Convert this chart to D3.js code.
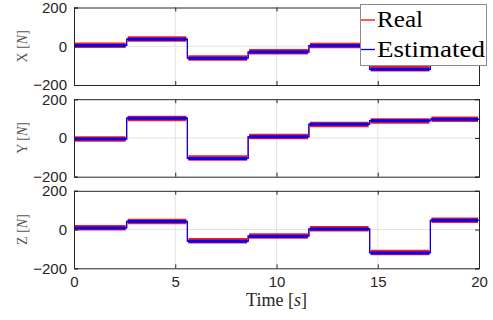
<!DOCTYPE html>
<html>
<head>
<meta charset="utf-8">
<script src="https://cdn.jsdelivr.net/npm/d3@7"></script>
<style>
  body { margin: 0; background: #fff; }
  svg { display: block; }
</style>
</head>
<body>
<div id="chart"></div>
<script>
// step boundaries (s) and the level of each segment, per force axis
const stepTimes = [0, 2.6, 5.6, 8.6, 11.6, 14.6, 17.6, 20];
const xReal = [5, 37, -60, -29, 4, -116, 0];
const xEst = [4, 36, -62, -30, 3, -119, 0];
const yReal = [-5, 101, -104, 7, 70, 88, 96];
const yEst = [-6, 102, -106, 6, 71, 89, 97];
const zReal = [9, 41, -58, -33, 4, -118, 48];
const zEst = [8, 42, -61, -34, 3, -121, 48];

const panels = ['X', 'Y', 'Z'];
const seriesByPanel = [[xReal, xEst], [yReal, yEst], [zReal, zEst]];
const yTicks = [-200, 0, 200];
const xTicks = [0, 5, 10, 15, 20];
const legendLabels = ['Real', 'Estimated'];
const colors = ['#ff0000', '#0000ff'];

const width = 493;
const height = 320;
const left = 74, right = 479;
const panelTop = [7.5, 99.2, 190.8];
const panelH = 77.5;
const axisColor = '#262626';

const svg = d3.select('#chart')
  .append('svg')
  .attr('width', width)
  .attr('height', height);

const x = d3.scaleLinear().domain([0, 20]).range([left, right]);

panels.forEach((name, i) => {
  const top = panelTop[i];
  const y = d3.scaleLinear().domain([-200, 200]).range([top + panelH, top]);
  const g = svg.append('g');

  // grid
  g.append('g').selectAll('line')
    .data(xTicks.slice(1, -1))
    .join('line')
    .attr('x1', d => x(d)).attr('x2', d => x(d))
    .attr('y1', top).attr('y2', top + panelH)
    .attr('stroke', '#e3e3e3').attr('stroke-width', 1);
  g.append('g').selectAll('line')
    .data(yTicks.slice(1, -1))
    .join('line')
    .attr('x1', left).attr('x2', right)
    .attr('y1', d => y(d)).attr('y2', d => y(d))
    .attr('stroke', '#e3e3e3').attr('stroke-width', 1);

  const clipId = 'clip' + i;
  svg.append('clipPath').attr('id', clipId)
    .append('rect')
    .attr('x', left).attr('y', top)
    .attr('width', right - left).attr('height', panelH);

  const plot = g.append('g').attr('clip-path', `url(#${clipId})`);

  seriesByPanel[i].forEach((vals, s) => {
    const pts = vals.map((v, k) => [stepTimes[k], v]);
    pts.push([stepTimes[stepTimes.length - 1], vals[vals.length - 1]]);
    const line = d3.line()
      .x(d => x(d[0])).y(d => y(d[1]))
      .curve(d3.curveStepAfter);
    // thin trace including the jumps
    plot.append('path')
      .attr('d', line(pts))
      .attr('fill', 'none')
      .attr('stroke', colors[s])
      .attr('stroke-width', 1.2);
    // noisy band on each level
    plot.append('g').selectAll('line')
      .data(vals.map((v, k) => ({ t0: stepTimes[k], t1: stepTimes[k + 1], v })))
      .join('line')
      .attr('x1', d => x(d.t0) + 1).attr('x2', d => x(d.t1) - 1)
      .attr('y1', d => y(d.v)).attr('y2', d => y(d.v))
      .attr('stroke', colors[s])
      .attr('stroke-width', s === 0 ? 5.5 : 3)
      .attr('opacity', s === 0 ? 0.9 : 1);
  });

  // axes (MATLAB box style with inward ticks)
  const yAxis = d3.axisLeft(y).tickValues(yTicks).tickSize(-4).tickPadding(7);
  const yAxisR = d3.axisRight(y).tickValues(yTicks).tickSize(-4).tickFormat('');
  const xAxis = d3.axisBottom(x).tickValues(xTicks).tickSize(-4).tickPadding(8)
    .tickFormat(i === 2 ? d3.format('d') : '');
  const xAxisT = d3.axisTop(x).tickValues(xTicks).tickSize(-4).tickFormat('');

  const styleAxis = sel => {
    sel.select('.domain').attr('stroke', axisColor).attr('stroke-width', 1);
    sel.selectAll('.tick line').attr('stroke', axisColor);
    sel.selectAll('text')
      .attr('fill', axisColor)
      .style('font-family', '"Liberation Sans", Arial, sans-serif')
      .style('font-size', '15px');
  };

  g.append('g').attr('transform', `translate(0,${top + panelH})`).call(xAxis).call(styleAxis);
  g.append('g').attr('transform', `translate(0,${top})`).call(xAxisT).call(styleAxis);
  g.append('g').attr('transform', `translate(${right},0)`).call(yAxisR).call(styleAxis);
  g.append('g').attr('transform', `translate(${left},0)`).call(yAxis).call(styleAxis);

  // y label
  const lab = g.append('text')
    .attr('transform', `translate(27,${top + panelH / 2}) rotate(-90)`)
    .attr('text-anchor', 'middle')
    .attr('fill', '#555')
    .style('font-family', '"Liberation Serif", "Times New Roman", serif')
    .style('font-size', '14px');
  lab.append('tspan').text(name + ' [');
  lab.append('tspan').attr('font-style', 'italic').text('N');
  lab.append('tspan').text(']');
});

// x label
const xl = svg.append('text')
  .attr('x', (left + right) / 2)
  .attr('y', 306)
  .attr('text-anchor', 'middle')
  .attr('fill', axisColor)
  .style('font-family', '"Liberation Serif", "Times New Roman", serif')
  .style('font-size', '18px');
xl.append('tspan').text('Time [');
xl.append('tspan').attr('font-style', 'italic').text('s');
xl.append('tspan').text(']');

// legend
const lg = svg.append('g');
lg.append('rect')
  .attr('x', 360.5).attr('y', 4.5)
  .attr('width', 126).attr('height', 61)
  .attr('fill', '#fff')
  .attr('stroke', '#8c8c8c').attr('stroke-width', 1);
const legendWidths = [46, 108];
legendLabels.forEach((name, k) => {
  const cy = 20 + k * 29.5;
  lg.append('line')
    .attr('x1', 361).attr('x2', 375)
    .attr('y1', cy).attr('y2', cy)
    .attr('stroke', colors[k]).attr('stroke-width', 1.3);
  lg.append('text')
    .attr('x', 377).attr('y', cy + 7)
    .attr('fill', '#000')
    .attr('textLength', legendWidths[k])
    .attr('lengthAdjust', 'spacingAndGlyphs')
    .style('font-family', '"Liberation Serif", "Times New Roman", serif')
    .style('font-size', '23px')
    .text(name);
});
</script>
</body>
</html>
